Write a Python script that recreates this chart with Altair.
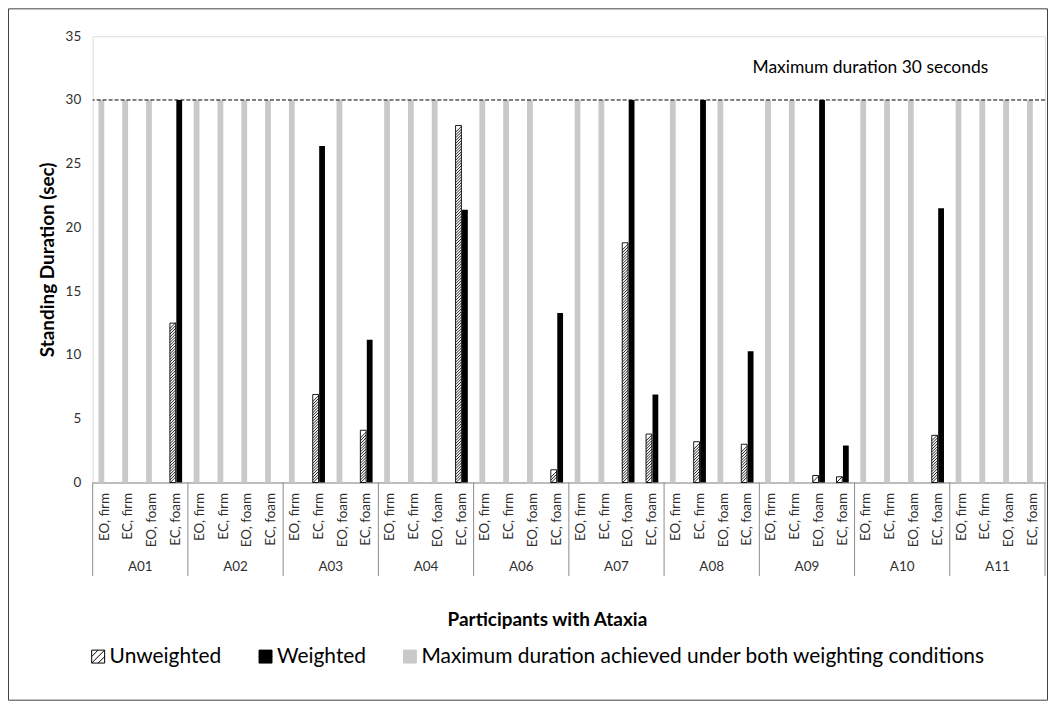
import altair as alt
import pandas as pd

# ---------------- data ----------------
participants = ["A01", "A02", "A03", "A04", "A06", "A07", "A08", "A09", "A10", "A11"]
conditions = ["EO, firm", "EC, firm", "EO, foam", "EC, foam"]

# None = maximum duration achieved under both weighting conditions
unweighted = [
    [None, None, None, 12.5],
    [None, None, None, None],
    [None, 6.9, None, 4.1],
    [None, None, None, 28.0],
    [None, None, None, 1.0],
    [None, None, 18.8, 3.8],
    [None, 3.2, None, 3.0],
    [None, None, 0.55, 0.45],
    [None, None, None, 3.7],
    [None, None, None, None],
]
weighted = [
    [None, None, None, 30.0],
    [None, None, None, None],
    [None, 26.4, None, 11.2],
    [None, None, None, 21.4],
    [None, None, None, 13.3],
    [None, None, 30.0, 6.9],
    [None, 30.0, None, 10.3],
    [None, None, 30.0, 2.9],
    [None, None, None, 21.5],
    [None, None, None, None],
]
MAX_DURATION = 30
SERIES = ["Unweighted", "Weighted",
          "Maximum duration achieved under both weighting conditions"]
ANNOTATION = "Maximum duration 30 seconds"
Y_TICKS = [0, 5, 10, 15, 20, 25, 30, 35]

rows, keys = [], []
for i, p in enumerate(participants):
    for j, c in enumerate(conditions):
        key = f"{p}|{c}"
        keys.append(key)
        u, w = unweighted[i][j], weighted[i][j]
        if u is None and w is None:
            rows.append(dict(key=key, series=SERIES[2], slot="U", value=MAX_DURATION))
        else:
            rows.append(dict(key=key, series=SERIES[0], slot="U", value=u))
            rows.append(dict(key=key, series=SERIES[1], slot="W", value=w))
bars_df = pd.DataFrame(rows)
groups_df = pd.DataFrame({
    "participant": participants,
    "first": [f"{p}|{conditions[0]}" for p in participants],
    "mid": [f"{p}|{conditions[2]}" for p in participants],
    "last": [f"{p}|{conditions[3]}" for p in participants],
})

# ---------------- styling ----------------
W, H = 956, 448
FONT = "Lato"
GRAY = "#c9c9c9"
FRAME = "#8c8c8c"

x_scale = alt.Scale(domain=keys, paddingInner=0, paddingOuter=0)
off_scale = alt.Scale(domain=["U", "W"], paddingInner=0.1, paddingOuter=0.9)
y_scale = alt.Scale(domain=[0, 35], nice=False, zero=True)

hatch_symbol = "M-1,-1H1V1H-1Z M-1,0L0,-1 M-1,1L1,-1 M0,1L1,0"
legend = alt.Legend(
    title=None, orient="none", direction="horizontal", legendX=-5, legendY=612,
    symbolType=hatch_symbol, symbolSize=169, symbolStrokeWidth=1,
    labelFont=FONT, labelFontSize=21, labelColor="black", labelOffset=1,
    columnPadding=33, labelLimit=0,
)

x_axis = alt.Axis(
    labelExpr="split(datum.label, '|')[1]", labelAngle=270, labelAlign="right",
    labelBaseline="middle", labelFont=FONT, labelFontSize=13.5, labelColor="#303030",
    labelPadding=10, labelOverlap=False, ticks=False, domainColor=FRAME,
    title="Participants with Ataxia", titleFont=FONT, titleFontSize=19,
    titleFontWeight="bold", titleColor="black", titleX=456, titleY=138,
    titleBaseline="middle",
)
y_axis = alt.Axis(
    values=Y_TICKS, grid=False, ticks=False, domain=False,
    labelFont=FONT, labelFontSize=13.5, labelColor="#303030", labelPadding=12,
    title="Standing Duration (sec)", titleFont=FONT, titleFontSize=19,
    titleFontWeight="bold", titleColor="black", titleX=-45, titleY=H / 2,
    titleAngle=270, titleAlign="center", titleBaseline="middle",
)

base = alt.Chart(bars_df)

bars = base.mark_bar().encode(
    x=alt.X("key:N", scale=x_scale, sort=keys, axis=x_axis),
    xOffset=alt.XOffset("slot:N", scale=off_scale),
    y=alt.Y("value:Q", scale=y_scale, axis=y_axis),
    fill=alt.Fill("series:N", scale=alt.Scale(domain=SERIES, range=["white", "black", GRAY]),
                  legend=legend),
    stroke=alt.Stroke("series:N", scale=alt.Scale(domain=SERIES, range=["black", "black", GRAY]),
                      legend=legend),
    strokeWidth=alt.condition(alt.datum.series == SERIES[0], alt.value(0.9), alt.value(0)),
)

hatch = base.transform_filter(alt.datum.series == SERIES[0]).transform_calculate(
    h="datum.value < 0.6 ? [datum.value / 2] : sequence(0.2, datum.value - 0.16, 0.22)"
).transform_flatten(["h"]).mark_point(
    shape="M-1,1L1,-1", size=34, filled=False, color="black", strokeWidth=0.9, opacity=1
).encode(
    x=alt.X("key:N", scale=x_scale, sort=keys),
    xOffset=alt.XOffset("slot:N", scale=off_scale),
    y=alt.Y("h:Q", scale=y_scale),
)

ann_df = pd.DataFrame({"label": [ANNOTATION], "level": [MAX_DURATION]})
dashed = alt.Chart(ann_df).mark_rule(color="black", strokeWidth=1, strokeDash=[4, 2]).encode(
    y=alt.Y("level:Q", scale=y_scale),
)
annot = alt.Chart(ann_df).mark_text(
    align="right", baseline="middle", font=FONT, fontSize=17.5, color="black"
).encode(
    x=alt.value(899),
    y=alt.YDatum(32.5, scale=y_scale),
    text="label:N",
)

seps_start = alt.Chart(groups_df).mark_rule(color=FRAME, strokeWidth=1).encode(
    x=alt.X("first:N", scale=x_scale, sort=keys, bandPosition=0),
    y=alt.value(H), y2=alt.value(H + 94),
)
seps_end = alt.Chart(groups_df).transform_filter(
    alt.datum.participant == participants[-1]
).mark_rule(color=FRAME, strokeWidth=1).encode(
    x=alt.X("last:N", scale=x_scale, sort=keys, bandPosition=1),
    y=alt.value(H), y2=alt.value(H + 94),
)
group_labels = alt.Chart(groups_df).mark_text(
    font=FONT, fontSize=13.5, color="#303030", baseline="middle"
).encode(
    x=alt.X("mid:N", scale=x_scale, sort=keys, bandPosition=0),
    y=alt.value(H + 85),
    text="participant:N",
)

frame = alt.Chart(pd.DataFrame({"f": [0]})).mark_rect(
    fill="transparent", stroke="#404040", strokeWidth=1
).encode(
    x=alt.value(-84.5), x2=alt.value(958.5), y=alt.value(-27.5), y2=alt.value(666.5),
)

chart = alt.layer(
    bars, hatch, dashed, annot, seps_start, seps_end, group_labels, frame
).properties(
    width=W, height=H,
    padding={"left": 85, "top": 27, "right": 4, "bottom": 219},
    autosize=alt.AutoSizeParams(type="none"),
).configure_view(
    stroke=FRAME, strokeWidth=1
).configure(background="white")

chart.save("out.html", embed_options={"renderer": "svg", "actions": False})
